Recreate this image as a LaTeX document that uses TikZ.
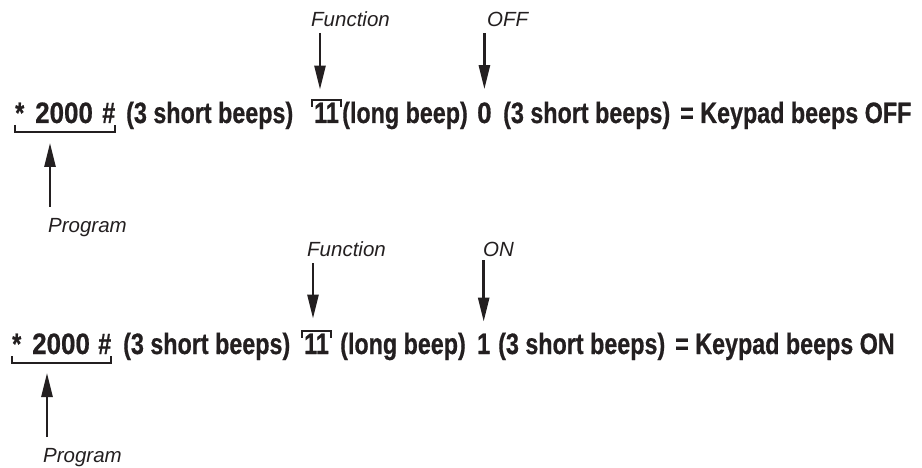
\documentclass[tikz,border=0pt]{standalone}
\usepackage{fontspec}
\usetikzlibrary{arrows.meta}
\newfontfamily\condfont[FakeStretch=0.79,FakeBold=0.6]{Liberation Sans Bold}
\newfontfamily\digitfont[FakeStretch=0.88,FakeBold=0.6]{Liberation Sans Bold}
\newfontfamily\labfont{Liberation Sans Italic}
\definecolor{ink}{HTML}{231F20}
\tikzset{
  txt/.style={font=\condfont\fontsize{29.5}{31}\selectfont, inner sep=0pt, anchor=base west, text=ink},
  dig/.style={font=\digitfont\fontsize{29.5}{31}\selectfont, inner sep=0pt, anchor=base west, text=ink},
  lab/.style={font=\labfont\fontsize{20.5}{22}\selectfont, inner sep=0pt, anchor=base west, text=ink},
  arr/.style={draw=ink, line width=2.6pt, -{Triangle[length=24pt,width=11pt]}},
  brk/.style={draw=ink, line width=2pt, line cap=butt, line join=miter}
}
\begin{document}
\begin{tikzpicture}[x=1pt,y=-1pt]
\useasboundingbox (0,0) rectangle (922,468);
% ---------- line 1 ----------
\node[txt] (a1) at (15,123) {*};
\node[dig] (b1) at (35,123) {2000};
\node[txt] (c1) at (102,123) {\#};
\node[txt] (d1) at (126,123) {(3 short beeps)};
\node[txt] (e1) at (314,123) {11};
\node[txt] (f1) at (342,123) {(long beep)};
\node[dig] (g1) at (477,123) {0};
\node[txt] (h1) at (503,123) {(3 short beeps)};
\node[txt] (i1) at (680,123) {= Keypad beeps OFF};
\node[lab] (fn1) at (311,27) {Function};
\node[lab] (off1) at (487,27) {OFF};
\node[lab] (pg1) at (48,233) {Program};
\coordinate (fa1) at (320,33);
\coordinate (pa1) at (50,207);
\draw[arr, shorten >=13pt] (fa1) -- (fa1 |- e1.north);
\draw[arr, shorten <=6pt, shorten >=13pt] (g1.north |- off1.south) -- (g1.north);
\draw[arr, shorten >=20pt] (pa1) -- (pa1 |- c1.base);
\draw[brk] ([yshift=-2pt]a1.base west) -- ([yshift=-9pt]a1.base west) -- ([yshift=-9pt]c1.base east) -- ([yshift=-2pt]c1.base east);
\draw[brk] ([xshift=-2pt,yshift=-4pt]e1.north west) -- ([xshift=-2pt,yshift=3pt]e1.north west) -- ([xshift=2pt,yshift=3pt]e1.north east) -- ([xshift=2pt,yshift=-4pt]e1.north east);
% ---------- line 2 ----------
\node[txt] (a2) at (12,354) {*};
\node[dig] (b2) at (32,354) {2000};
\node[txt] (c2) at (98,354) {\#};
\node[txt] (d2) at (123,354) {(3 short beeps)};
\node[txt] (e2) at (304,354) {11};
\node[txt] (f2) at (340,354) {(long beep)};
\node[txt] (g2) at (477,354) {1};
\node[txt] (h2) at (498,354) {(3 short beeps)};
\node[txt] (i2) at (675,354) {= Keypad beeps ON};
\node[lab] (fn2) at (307,257) {Function};
\node[lab] (on2) at (483,257) {ON};
\node[lab] (pg2) at (43,462) {Program};
\coordinate (fa2) at (313,263);
\coordinate (pa2) at (47,437);
\draw[arr, shorten >=15pt] (fa2) -- (fa2 |- e2.north);
\draw[arr, shorten <=3pt, shorten >=12pt] (g2.north |- on2.south) -- (g2.north);
\draw[arr, shorten >=19pt] (pa2) -- (pa2 |- c2.base);
\draw[brk] ([yshift=-2pt]a2.base west) -- ([yshift=-9pt]a2.base west) -- ([yshift=-9pt]c2.base east) -- ([yshift=-2pt]c2.base east);
\draw[brk] ([xshift=-2pt,yshift=-4pt]e2.north west) -- ([xshift=-2pt,yshift=3pt]e2.north west) -- ([xshift=2pt,yshift=3pt]e2.north east) -- ([xshift=2pt,yshift=-4pt]e2.north east);
\end{tikzpicture}
\end{document}
